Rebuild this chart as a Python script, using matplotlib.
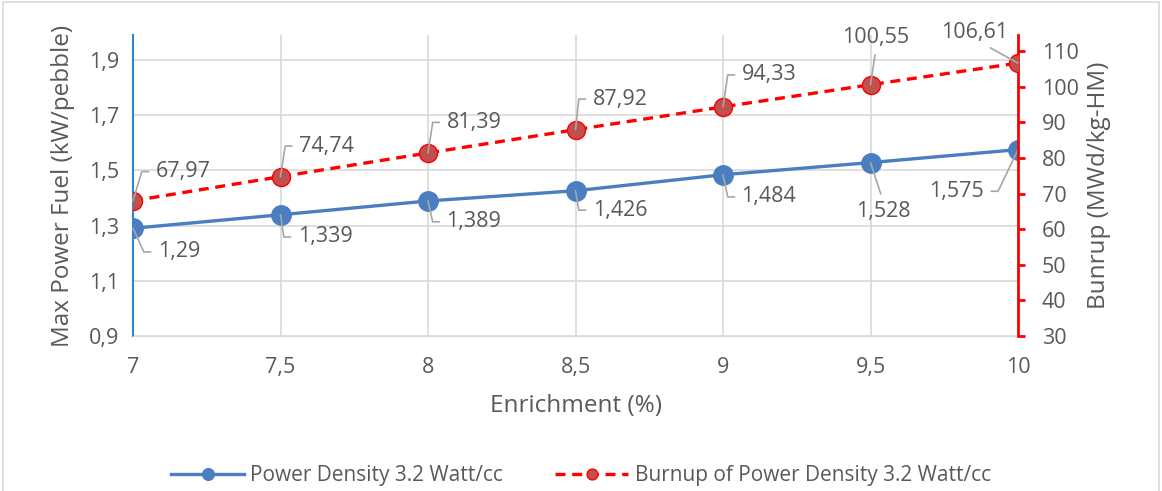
import math
import matplotlib.pyplot as plt
from matplotlib.patches import Rectangle

plt.rcParams['font.family'] = ['Open Sans', 'DejaVu Sans']

enrichment = [7, 7.5, 8, 8.5, 9, 9.5, 10]
max_power = [1.29, 1.339, 1.389, 1.426, 1.484, 1.528, 1.575]
burnup = [67.97, 74.74, 81.39, 87.92, 94.33, 100.55, 106.61]
x_ticklabels = ["7", "7,5", "8", "8,5", "9", "9,5", "10"]
left_ticks = [0.9, 1.1, 1.3, 1.5, 1.7, 1.9]
right_ticks = [30, 40, 50, 60, 70, 80, 90, 100, 110]

# label offsets (points) for the data labels
power_offsets = [(33, -17), (32, -16), (33, -15), (32, -14), (33, -16), (9, -35), (-44, -30)]
burnup_offsets = [(36, 21), (33, 22), (33, 22), (32, 22), (33, 23), (4, 34), (-31, 22)]

grey = '#595959'
blue = '#4A7EC0'
red = '#FF0000'
fs = 15.5

fig = plt.figure(figsize=(11.62, 4.91), dpi=100)
fig.patches.append(Rectangle((0.003, -0.05), 0.994, 1.045, transform=fig.transFigure,
                             fill=False, edgecolor='#D9D9D9', lw=1.2))
ax = fig.add_axes([133 / 1162, 1 - 336 / 491, (1018 - 133) / 1162, (336 - 35) / 491])
ax2 = ax.twinx()

ax.plot(enrichment, max_power, color=blue, lw=2.4, marker='o', ms=14,
        mfc=blue, mec=blue, zorder=3, label='Power Density 3.2 Watt/cc')
ax2.plot(enrichment, burnup, color=red, lw=2.4, ls=(0, (3, 2)), marker='o', ms=13,
         mfc='#C0504D', mec=red, mew=1, zorder=3, label='Burnup of Power Density 3.2 Watt/cc')

ax.set_xlim(7, 10)
ax.set_ylim(0.9, 1.99)
ax2.set_ylim(30, 114.5)
ax.set_xticks(enrichment)
ax.set_xticklabels(x_ticklabels)
ax.set_yticks(left_ticks)
ax.set_yticklabels([f"{t:.1f}".replace('.', ',') for t in left_ticks])
ax2.set_yticks(right_ticks)

ax.grid(True, color='#D9D9D9', lw=1.2)
ax.set_axisbelow(True)
ax.spines['top'].set_visible(False)
ax2.spines['top'].set_visible(False)
ax.spines['bottom'].set_color('#D9D9D9')
ax2.spines['bottom'].set_visible(False)
ax.spines['left'].set_color('#2E86D0')
ax.spines['left'].set_linewidth(1.5)
ax2.spines['left'].set_visible(False)
ax.spines['right'].set_visible(False)
ax2.spines['right'].set_color(red)
ax2.spines['right'].set_linewidth(2)

ax.tick_params(axis='x', length=0, pad=15, labelsize=fs, labelcolor=grey)
ax.tick_params(axis='y', length=0, pad=10, labelsize=fs, labelcolor=grey)
ax2.tick_params(axis='y', length=5, width=2, color=red, pad=12, labelsize=fs, labelcolor=grey)

ax.set_xlabel('Enrichment (%)', fontsize=17.5, color=grey, labelpad=12)
ax.set_ylabel('Max Power Fuel (kW/pebble)', fontsize=17.5, color=grey, labelpad=10)
ax2.set_ylabel('Bunrup (MWd/kg-HM)', fontsize=17.5, color=grey, labelpad=6)


def data_label(axis, x, y, text, off):
    # excel style leader: short horizontal bit next to the label, then down to the point
    dx, dy = off
    half = (sum(0.25 if c == ',' else 0.57 for c in text) * fs) / 2
    props = dict(arrowstyle='-', color='#A6A6A6', lw=1.2, shrinkA=3, shrinkB=0)
    if abs(dx) < half:
        props['relpos'] = (0.5, 0.0 if dy > 0 else 1.0)
    elif dx < 0 and dy > 0:
        props['relpos'] = (0.6, 0.0)
    else:
        side = 1 if dx > 0 else -1
        elbow = dx - side * (half + 10)
        ang = math.degrees(math.atan2(dy, elbow))
        props['relpos'] = (0.0 if side > 0 else 1.0, 0.5)
        props['connectionstyle'] = f"angle,angleA=0,angleB={ang:.1f},rad=0"
    axis.annotate(text, (x, y), xytext=off, textcoords='offset points', ha='center',
                  va='center', fontsize=fs, color=grey, arrowprops=props, zorder=4)


for x, y, off in zip(enrichment, max_power, power_offsets):
    data_label(ax, x, y, f"{y:g}".replace('.', ','), off)
for x, y, off in zip(enrichment, burnup, burnup_offsets):
    data_label(ax2, x, y, f"{y:.2f}".replace('.', ','), off)

h1, l1 = ax.get_legend_handles_labels()
h2, l2 = ax2.get_legend_handles_labels()
fig.legend(h1 + h2, l1 + l2, loc='center', bbox_to_anchor=(0.5, 15 / 491), ncol=2,
           frameon=False, fontsize=15, labelcolor=grey, columnspacing=2.5, handlelength=3.5,
           markerscale=0.6, handletextpad=0.3)

fig.savefig('out.png', dpi=100)
